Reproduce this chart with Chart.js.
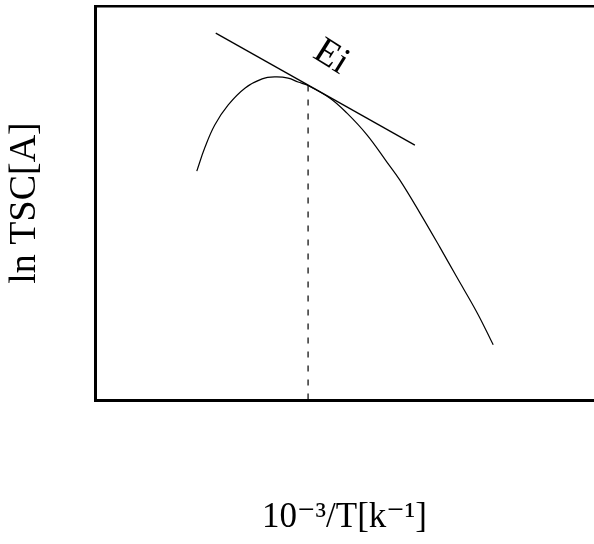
<!DOCTYPE html>
<html>
<head>
<meta charset="utf-8">
<script src="https://cdn.jsdelivr.net/npm/chart.js@4/dist/chart.umd.min.js"></script>
<style>
  html, body { margin: 0; padding: 0; background: #fff; }
  #wrap { width: 594px; height: 544px; position: relative; }
</style>
</head>
<body>
<div id="wrap"><canvas id="tsc"></canvas></div>
<script>
// curve (arbitrary units, 0..100 on both axes)
const curveX = [20.4, 22.0, 24.0, 26.7, 30.1, 33.5, 36.1, 38.7, 40.7, 42.7, 47.1, 50.5, 54.5, 58.5, 61.1, 65.1, 69.1, 72.5, 76.6, 79.8];
const curveY = [58.1, 64.0, 69.8, 74.9, 79.2, 81.5, 82.0, 81.7, 80.7, 79.8, 76.6, 72.8, 67.3, 60.4, 55.8, 47.5, 38.8, 31.2, 22.1, 14.0];

// tangent line at the inflection point
const tangentX = [24.2, 64.1];
const tangentY = [93.1, 64.7];

// vertical dashed marker
const markerX = [42.7, 42.7];
const markerY = [79.8, 0];

// label
const labelText = 'Ei';
const labelX = 47.3;
const labelY = 87.0;

const serif = '"Liberation Serif", "DejaVu Serif", serif';

function toPoints(xs, ys) {
    return xs.map((x, i) => ({ x: x, y: ys[i] }));
}

// draws the rotated "Ei" label through the scales
const labelPlugin = {
    id: 'eiLabel',
    afterDatasetsDraw(chart) {
        const ctx = chart.ctx;
        const px = chart.scales.x.getPixelForValue(labelX);
        const py = chart.scales.y.getPixelForValue(labelY);
        ctx.save();
        ctx.translate(px, py);
        ctx.rotate(32 * Math.PI / 180);
        ctx.font = '38px ' + serif;
        ctx.fillStyle = '#000';
        ctx.textAlign = 'center';
        ctx.textBaseline = 'middle';
        ctx.fillText(labelText, 0, 0);
        ctx.restore();
    }
};

new Chart(document.getElementById('tsc'), {
    type: 'scatter',
    data: {
        datasets: [
            {
                label: 'TSC',
                data: toPoints(curveX, curveY),
                showLine: true,
                borderColor: '#000',
                borderWidth: 1.2,
                pointRadius: 0,
                tension: 0.4,
                fill: false
            },
            {
                label: 'tangent',
                data: toPoints(tangentX, tangentY),
                showLine: true,
                borderColor: '#000',
                borderWidth: 1.3,
                pointRadius: 0,
                fill: false
            },
            {
                label: 'marker',
                data: toPoints(markerX, markerY),
                showLine: true,
                borderColor: '#000',
                borderWidth: 1.2,
                borderDash: [6, 8],
                pointRadius: 0,
                fill: false
            }
        ]
    },
    options: {
        responsive: true,
        maintainAspectRatio: false,
        animation: false,
        layout: { padding: 0 },
        plugins: {
            legend: { display: false },
            tooltip: { enabled: false }
        },
        scales: {
            x: {
                type: 'linear',
                min: 0,
                max: 100,
                position: 'bottom',
                grid: { display: false, drawTicks: false, tickLength: 0 },
                border: { display: true, color: '#000', width: 3 },
                ticks: { display: false },
                title: {
                    display: true,
                    text: '10\u207B\u00B3/T[k\u207B\u00B9]',
                    color: '#000',
                    font: { family: serif, size: 35 },
                    padding: { top: 0, bottom: 5 }
                },
                afterFit(scale) { scale.height = 144; }
            },
            x2: {
                type: 'linear',
                min: 0,
                max: 100,
                position: 'top',
                grid: { display: false, drawTicks: false, tickLength: 0 },
                border: { display: true, color: '#000', width: 2.5 },
                ticks: { display: false },
                afterFit(scale) { scale.height = 6; }
            },
            y: {
                type: 'linear',
                min: 0,
                max: 100,
                grid: { display: false, drawTicks: false, tickLength: 0 },
                border: { display: true, color: '#000', width: 3 },
                ticks: { display: false },
                title: {
                    display: true,
                    text: 'ln TSC[A]',
                    color: '#000',
                    font: { family: serif, size: 38 },
                    padding: { top: 2, bottom: 0 }
                },
                afterFit(scale) { scale.width = 95; }
            }
        }
    },
    plugins: [labelPlugin]
});
</script>
</body>
</html>
